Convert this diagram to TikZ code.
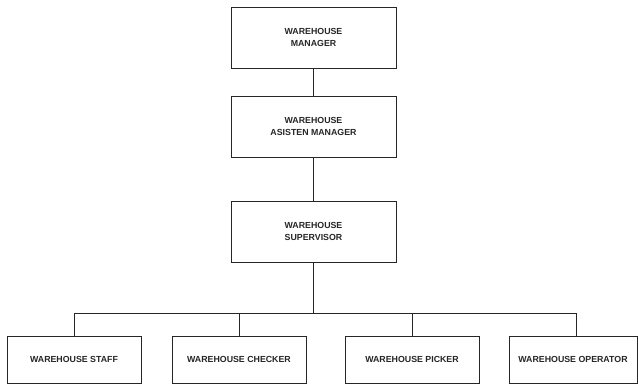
\documentclass[tikz,border=0pt]{standalone}
\usepackage{fontspec}
\setmainfont{Liberation Sans}
\begin{document}
\begin{tikzpicture}[x=1pt,y=-1pt,
  box/.style={draw=black!85, line width=0.9pt, fill=white, align=center, inner sep=0pt,
    font=\fontsize{8.8}{11.5}\selectfont\bfseries, text=black!85},
  bigbox/.style={box, minimum width=165pt, minimum height=61pt},
  smallbox/.style={box, minimum height=47pt},
  conn/.style={draw=black!85, line width=0.9pt}]
\useasboundingbox (0,0) rectangle (638,384);
\node[bigbox] (mgr) at (313.5,37.5) {WAREHOUSE\\MANAGER};
\node[bigbox] (ast) at (313.5,126.5) {WAREHOUSE\\ASISTEN MANAGER};
\node[bigbox] (sup) at (313.5,231.5) {WAREHOUSE\\SUPERVISOR};
\node[smallbox, minimum width=134pt] (staff) at (74,359.5) {WAREHOUSE STAFF};
\node[smallbox, minimum width=134pt] (checker) at (239,359.5) {WAREHOUSE CHECKER};
\node[smallbox, minimum width=134pt] (picker) at (412,359.5) {WAREHOUSE PICKER};
\node[smallbox, minimum width=128pt] (operator) at (573,359.5) {WAREHOUSE OPERATOR};
\coordinate (busL) at (74,313);
\coordinate (busR) at (576,313);
\coordinate (busM) at (313.5,313);
\draw[conn] (mgr) -- (ast);
\draw[conn] (ast) -- (sup);
\draw[conn] (sup) -- (busM);
\draw[conn] (busL) -- (busR);
\draw[conn] (busL) -- (staff);
\draw[conn] (checker.north |- busL) -- (checker);
\draw[conn] (picker.north |- busL) -- (picker);
\draw[conn] (busR) -- (busR |- operator.north);
\end{tikzpicture}
\end{document}
